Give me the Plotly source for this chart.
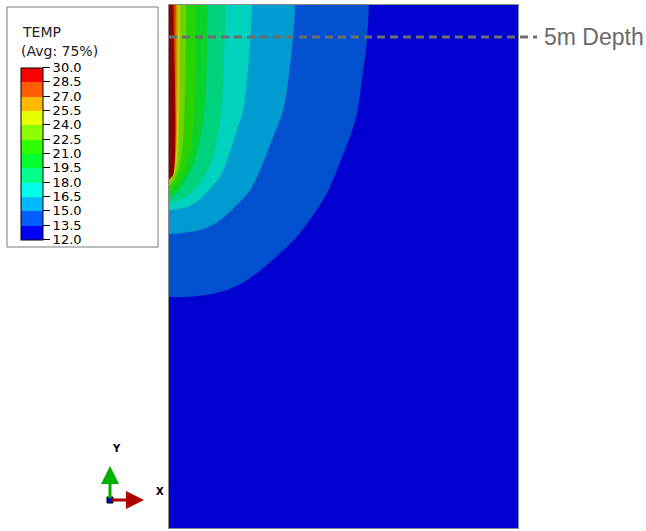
import plotly.graph_objects as go

# ---- geometry (metres) ----
DOMAIN_W = 55.0
DOMAIN_D = 82.0
DEPTH_LINE = 5.0

# ---- legend ----
tick_values = [12.0, 13.5, 15.0, 16.5, 18.0, 19.5, 21.0, 22.5, 24.0, 25.5, 27.0, 28.5, 30.0]
tick_labels = ["12.0", "13.5", "15.0", "16.5", "18.0", "19.5", "21.0", "22.5", "24.0", "25.5", "27.0", "28.5", "30.0"]
legend_colors = ["#0000FF", "#005DFF", "#00B9FF", "#00FFE8", "#00FF8B", "#00FF2E",
                 "#2EFF00", "#8BFF00", "#E8FF00", "#FFB900", "#FF5D00", "#FF0000"]
# shaded colours as they appear on the model
band_colors = ["#0000D0", "#0050D0", "#009BD0", "#00D2BE", "#00D27E", "#0AD22A",
               "#2AD200", "#72D200", "#BED200", "#D29800", "#D24C00", "#D20000"]
over_color = "#8E0000"

# ---- isotherms: x (m from heater wall) vs depth (m) ----
iso_13_5_x = [31.5, 31.2, 30.4, 29.6, 28.5, 26.9, 24.9, 22.2, 19.9, 17.2, 14.3, 11.0, 7.4, 3.8, 0.0]
iso_13_5_d = [0.0, 5.5, 11.8, 17.2, 20.7, 24.8, 29.5, 33.7, 36.6, 39.2, 41.7, 43.9, 45.2, 45.7, 45.8]
iso_15_0_x = [19.9, 19.5, 18.8, 18.0, 16.4, 14.8, 12.8, 9.9, 7.4, 4.7, 1.6, 0.0]
iso_15_0_d = [0.0, 5.5, 11.8, 16.5, 20.7, 24.8, 29.0, 32.1, 34.2, 35.3, 35.8, 35.9]
iso_16_5_x = [13.1, 12.8, 12.3, 11.7, 10.7, 9.8, 8.2, 6.3, 4.7, 2.7, 0.0]
iso_16_5_d = [0.0, 5.5, 11.8, 16.5, 19.6, 22.4, 26.7, 29.0, 30.6, 31.7, 32.1]
iso_18_0_x = [9.0, 8.7, 8.4, 7.4, 6.5, 5.4, 3.8, 1.9, 0.0]
iso_18_0_d = [0.0, 7.1, 14.9, 22.0, 25.1, 27.1, 29.2, 30.5, 31.0]
iso_19_5_x = [6.1, 6.0, 5.8, 5.4, 4.7, 3.8, 2.7, 1.4, 0.0]
iso_19_5_d = [0.0, 7.1, 14.1, 18.0, 22.0, 25.1, 27.3, 29.2, 30.1]
iso_21_0_x = [4.3, 4.1, 3.6, 3.0, 2.0, 1.0, 0.0]
iso_21_0_d = [0.0, 14.1, 21.2, 24.3, 26.8, 28.4, 29.3]
iso_22_5_x = [2.7, 2.5, 2.2, 1.7, 0.9, 0.0]
iso_22_5_d = [0.0, 14.1, 21.2, 25.1, 27.3, 28.4]
iso_24_0_x = [1.73, 1.65, 1.42, 0.95, 0.0]
iso_24_0_d = [0.0, 14.1, 22.7, 26.2, 27.8]
iso_25_5_x = [1.42, 1.34, 1.10, 0.63, 0.0]
iso_25_5_d = [0.0, 14.1, 23.5, 26.5, 27.6]
iso_27_0_x = [1.10, 1.02, 0.87, 0.47, 0.0]
iso_27_0_d = [0.0, 14.1, 24.3, 26.8, 27.4]
iso_28_5_x = [0.79, 0.79, 0.63, 0.32, 0.0]
iso_28_5_d = [0.0, 14.1, 25.1, 27.0, 27.3]
iso_30_0_x = [0.58, 0.58, 0.0]
iso_30_0_d = [0.0, 26.8, 27.0]

isotherms = [
    (iso_13_5_x, iso_13_5_d), (iso_15_0_x, iso_15_0_d), (iso_16_5_x, iso_16_5_d),
    (iso_18_0_x, iso_18_0_d), (iso_19_5_x, iso_19_5_d), (iso_21_0_x, iso_21_0_d),
    (iso_22_5_x, iso_22_5_d), (iso_24_0_x, iso_24_0_d), (iso_25_5_x, iso_25_5_d),
    (iso_27_0_x, iso_27_0_d), (iso_28_5_x, iso_28_5_d), (iso_30_0_x, iso_30_0_d),
]
fills = band_colors[1:] + [over_color]

OUT = 3.0  # closing the bands outside the model so the clipped spline stays clean

fig = go.Figure()
for (xs, ds), col in zip(isotherms, fills):
    px_ = list(xs) + [-OUT, -OUT, xs[0]]
    py_ = list(ds) + [ds[-1], -OUT, -OUT]
    fig.add_trace(go.Scatter(
        x=px_, y=py_, mode="lines", fill="toself",
        fillcolor=col, line=dict(width=0, color=col, shape="spline", smoothing=0.8),
        hoverinfo="skip", showlegend=False))

# colour bar (legend)
cs = []
n = len(legend_colors)
for i, c in enumerate(legend_colors):
    cs.append([i / n, c])
    cs.append([(i + 1) / n, c])

fig.add_trace(go.Scatter(
    x=[None], y=[None], mode="markers", showlegend=False, hoverinfo="skip",
    marker=dict(color=[tick_values[0]], cmin=tick_values[0], cmax=tick_values[-1],
                colorscale=cs, showscale=True,
                colorbar=dict(x=-0.425, xanchor="left", y=0.716, yanchor="middle",
                              len=172, lenmode="pixels", thickness=22, thicknessmode="pixels",
                              xpad=0, ypad=0, outlinewidth=1, outlinecolor="#000000",
                              ticks="outside", ticklen=7, tickwidth=1, tickcolor="#000000",
                              tickvals=tick_values, ticktext=tick_labels,
                              tickfont=dict(family="DejaVu Sans", size=13, color="#000000"),
                              bgcolor="rgba(0,0,0,0)"))))

W_PX = 349.0
H_PX = 523.0

def px(xp):
    return (xp - 169) / W_PX

def py(yp):
    return 1 - (yp - 5) / H_PX

shapes = [
    # legend box
    dict(type="rect", xref="paper", yref="paper", x0=px(7), x1=px(158), y0=py(247), y1=py(7),
         line=dict(color="#7a7a7a", width=1), fillcolor="rgba(0,0,0,0)", layer="below"),
    # 5 m depth line
    dict(type="line", xref="paper", yref="paper", x0=0, x1=px(537),
         y0=1 - DEPTH_LINE / DOMAIN_D, y1=1 - DEPTH_LINE / DOMAIN_D,
         line=dict(color="#6e6e6e", width=3, dash="8px,5px")),
    # triad origin
    dict(type="rect", xref="paper", yref="paper", x0=px(107), x1=px(113), y0=py(503), y1=py(497),
         fillcolor="#0000CC", line=dict(color="#000000", width=1)),
]

annotations = [
    dict(text="TEMP", xref="paper", yref="paper", x=px(20), y=py(32), xanchor="left", yanchor="middle",
         showarrow=False, font=dict(family="DejaVu Sans", size=14, color="#222222")),
    dict(text="(Avg: 75%)", xref="paper", yref="paper", x=px(19), y=py(51), xanchor="left", yanchor="middle",
         showarrow=False, font=dict(family="DejaVu Sans", size=14, color="#222222")),
    dict(text="5m Depth", xref="paper", yref="paper", x=px(542), y=1 - DEPTH_LINE / DOMAIN_D,
         xanchor="left", yanchor="middle", showarrow=False,
         font=dict(family="Liberation Sans", size=23, color="#6a6a6a")),
    # triad arrows
    dict(text="", xref="paper", yref="paper", x=px(110), y=py(466), ax=0, ay=34,
         showarrow=True, arrowhead=2, arrowsize=1.2, arrowwidth=3, arrowcolor="#00B000",
         standoff=0, startstandoff=0),
    dict(text="", xref="paper", yref="paper", x=px(144), y=py(500), ax=-34, ay=0,
         showarrow=True, arrowhead=2, arrowsize=1.2, arrowwidth=3, arrowcolor="#B00000",
         standoff=0, startstandoff=0),
    dict(text="<b>Y</b>", xref="paper", yref="paper", x=px(110), y=py(456), showarrow=False,
         font=dict(family="DejaVu Sans", size=10, color="#000000")),
    dict(text="<b>X</b>", xref="paper", yref="paper", x=px(154), y=py(499), showarrow=False,
         font=dict(family="DejaVu Sans", size=10, color="#000000")),
]

fig.update_layout(
    width=646, height=531,
    margin=dict(l=169, r=128, t=5, b=3),
    paper_bgcolor="#FFFFFF", plot_bgcolor=band_colors[0],
    shapes=shapes, annotations=annotations, showlegend=False,
)
fig.update_xaxes(range=[0, DOMAIN_W], showgrid=False, zeroline=False, showticklabels=False,
                 ticks="", showline=True, mirror=True, linecolor="#8a8a8a", linewidth=1)
fig.update_yaxes(range=[DOMAIN_D, 0], showgrid=False, zeroline=False, showticklabels=False,
                 ticks="", showline=True, mirror=True, linecolor="#8a8a8a", linewidth=1)

fig.write_html("out.html")
